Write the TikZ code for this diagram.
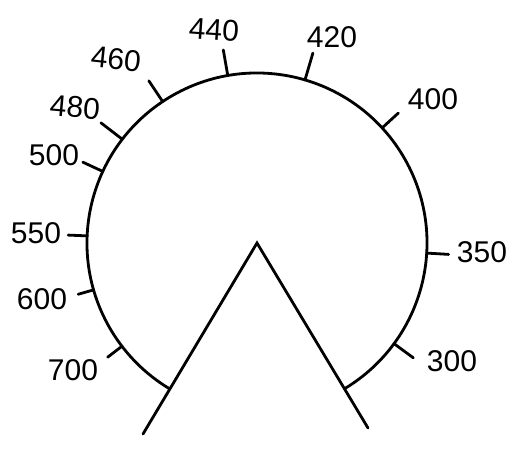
\documentclass[tikz,border=0pt]{standalone}
\usepackage{fontspec}
\setmainfont{Liberation Sans}
\begin{document}
\begin{tikzpicture}[x=1pt,y=1pt,line width=2.8pt,line cap=round,
  lbl/.style={font=\fontsize{30}{30}\selectfont,inner sep=0pt}]
\useasboundingbox (-257,-210) rectangle (265,243);
\fill[white] (-257,-210) rectangle (265,243);
\coordinate (c) at (0,0);
\coordinate (aR) at (-59:170);
\coordinate (aL) at (239:170);
\draw (aR) arc[start angle=-59,end angle=239,radius=170];
\coordinate (wl) at (-114,-191);
\coordinate (wr) at (111,-185);
\draw (wl) -- (c) -- (wr);
\foreach \a/\r/\n in {99.9/196/440,73.6/198/420,42.6/192/400,-3.4/192/350,-36.3/194/300,123.7/195/460,142.4/197/480,155.1/192/500,177.6/189/550,196/186/600,217.4/188/700}{
  \coordinate (ti\n) at (\a:170);
  \coordinate (to\n) at (\a:\r);
  \draw (ti\n) -- (to\n);
}
\node[lbl,rotate=-4] (l440) at (-43,213) {440};
\node[lbl] (l420) at (75,206) {420};
\node[lbl] (l400) at (176,144) {400};
\node[lbl] (l350) at (225,-9) {350};
\node[lbl] (l300) at (195,-118) {300};
\node[lbl,rotate=-6] (l460) at (-141,184) {460};
\node[lbl,rotate=-5] (l480) at (-182,136) {480};
\node[lbl] (l500) at (-203,88) {500};
\node[lbl] (l550) at (-221,10) {550};
\node[lbl] (l600) at (-215,-56) {600};
\node[lbl] (l700) at (-184,-127) {700};
\end{tikzpicture}
\end{document}
